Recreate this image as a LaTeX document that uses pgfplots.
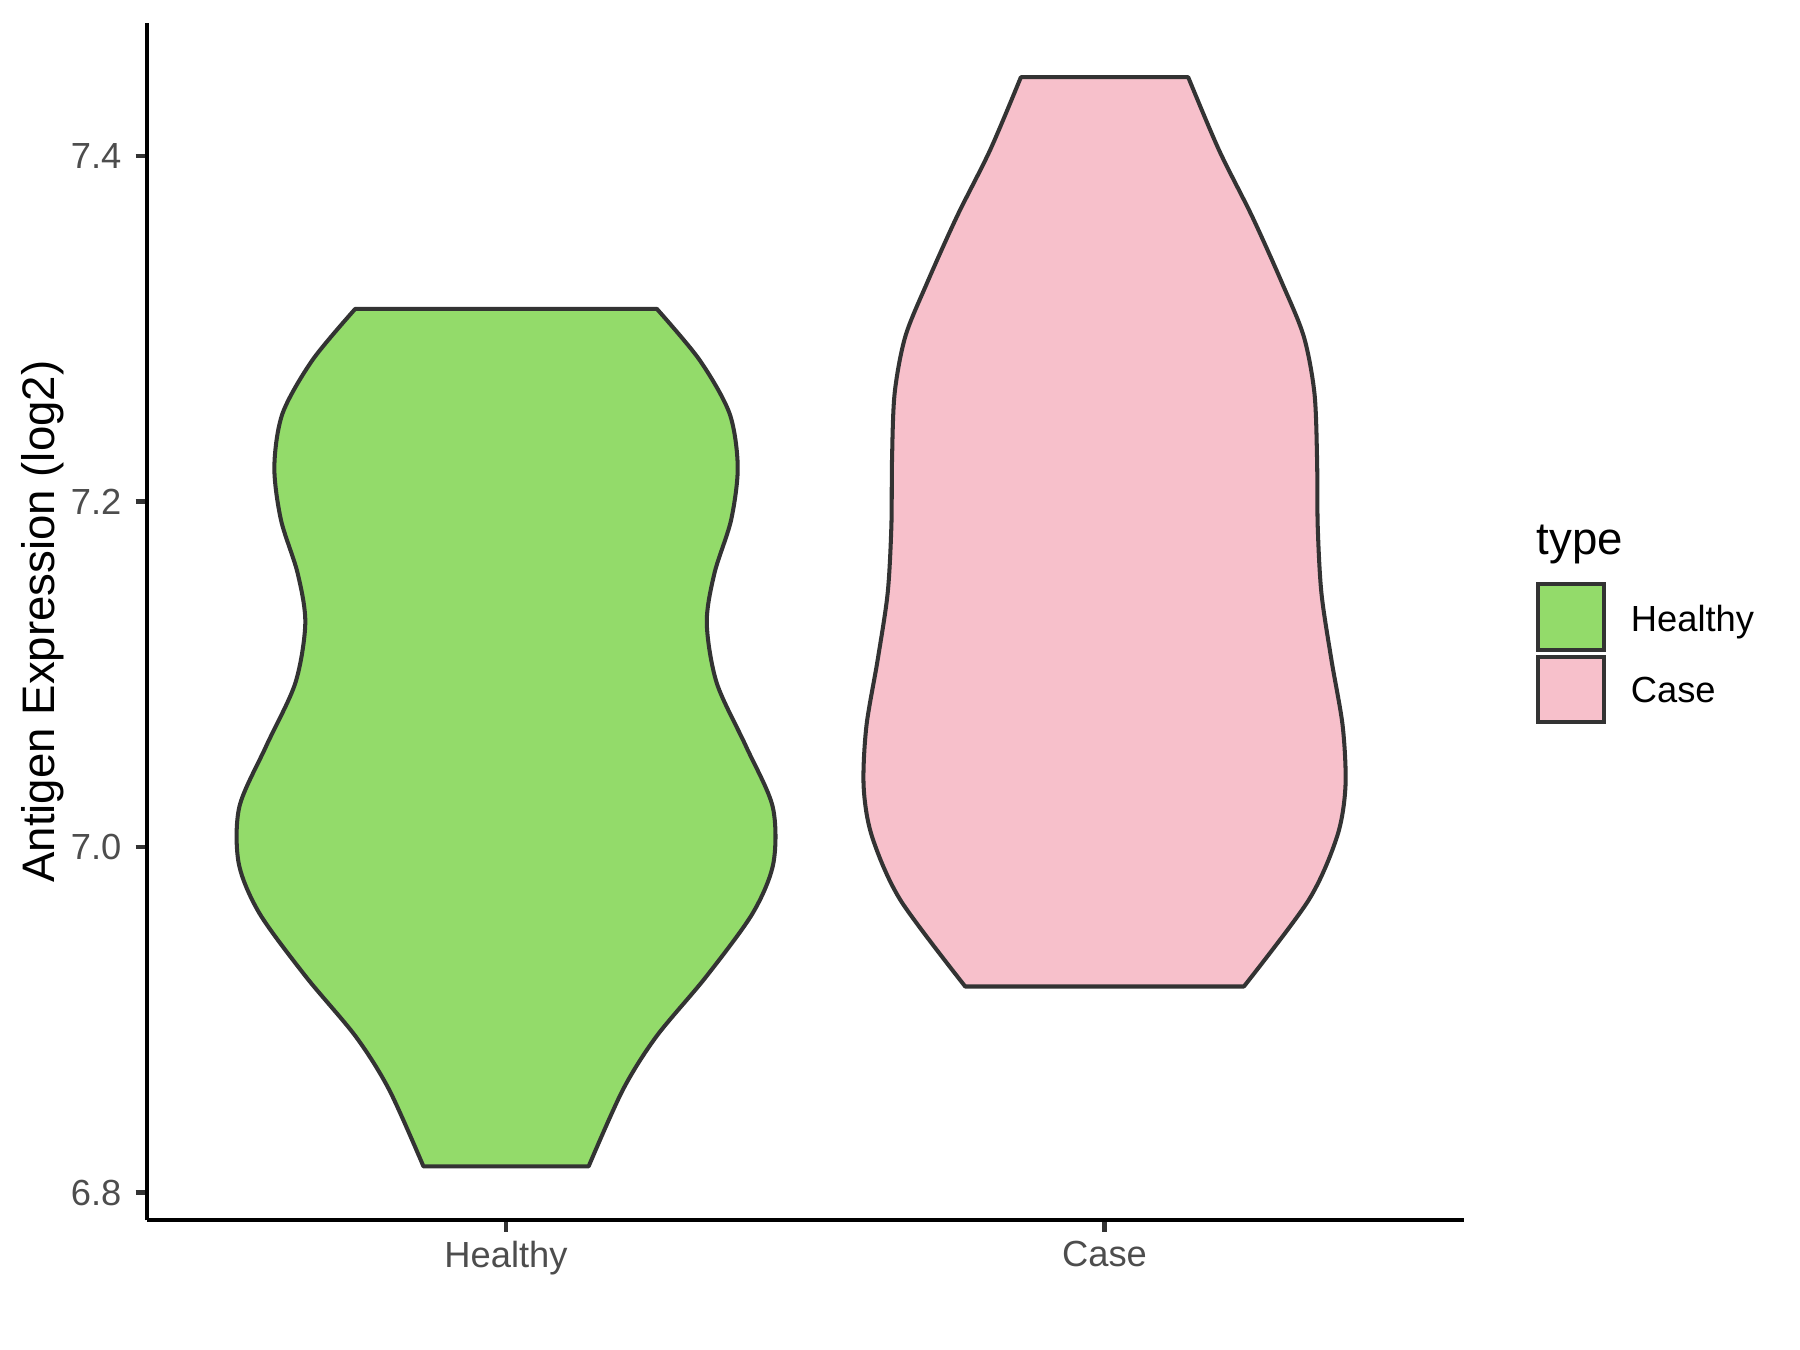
\documentclass[border=0pt]{standalone}
\usepackage{fontspec}
\setmainfont{Liberation Sans}
\usepackage{pgfplots}
\pgfplotsset{compat=1.18}
\usepackage{pgfplotstable}
\usepgfplotslibrary{fillbetween}

\definecolor{healthyfill}{RGB}{147,219,106}
\definecolor{casefill}{RGB}{247,192,203}
\definecolor{gray20}{RGB}{51,51,51}
\definecolor{gray30}{RGB}{77,77,77}

% violin outlines: y value and half width (x units), top to bottom
\pgfplotstableread{
yv hw
7.3115 0.2520
7.2820 0.3232
7.2511 0.3733
7.2202 0.3871
7.1894 0.3761
7.1585 0.3482
7.1296 0.3354
7.0949 0.3521
7.0582 0.4011
7.0234 0.4455
6.9907 0.4467
6.9617 0.4121
6.9250 0.3344
6.8903 0.2510
6.8595 0.1952
6.8152 0.1380
}\healthytab

\pgfplotstableread{
yv hw
7.4456 0.1398
7.4035 0.1911
7.3650 0.2466
7.3264 0.2967
7.2955 0.3329
7.2627 0.3507
7.2241 0.3551
7.1855 0.3562
7.1469 0.3624
7.1083 0.3791
7.0697 0.3980
7.0350 0.4025
7.0061 0.3885
6.9694 0.3412
6.9193 0.2328
}\casetab

\begin{document}
\begin{tikzpicture}
\begin{axis}[
  at={(0,0)}, anchor=south west,
  scale only axis,
  width=11.47cm, height=10.43cm,
  xmin=0.4, xmax=2.6,
  ymin=6.784, ymax=7.477,
  axis lines*=left,
  axis line style={-, black, line width=1.1pt},
  tick align=outside,
  major tick length=2.8pt,
  tick style={gray20, line width=1.1pt},
  xtick={1,2},
  xticklabels={Healthy,Case},
  ytick={6.8,7.0,7.2,7.4},
  yticklabel style={/pgf/number format/.cd, fixed, fixed zerofill, precision=1},
  /pgf/number format/assume math mode=true,
  ticklabel style={font=\fontsize{9}{10}\selectfont, text=gray30},
  xticklabel style={yshift=1.1pt},
  ylabel={Antigen Expression (log2)},
  ylabel style={at={(axis description cs:-0.0793,0.5)}, anchor=center,
                font=\fontsize{11.3}{13}\selectfont},
]
\addplot[draw=none, smooth, name path=HR] table[x expr={1+\thisrow{hw}}, y=yv] {\healthytab};
\addplot[draw=none, smooth, name path=HL] table[x expr={1-\thisrow{hw}}, y=yv] {\healthytab};
\addplot[fill=healthyfill, draw=gray20, line width=1pt, line join=round]
  fill between[of=HR and HL, reverse=true];

\addplot[draw=none, smooth, name path=CR] table[x expr={2+\thisrow{hw}}, y=yv] {\casetab};
\addplot[draw=none, smooth, name path=CL] table[x expr={2-\thisrow{hw}}, y=yv] {\casetab};
\addplot[fill=casefill, draw=gray20, line width=1pt, line join=round]
  fill between[of=CR and CL, reverse=true];
\end{axis}

% legend
\node[anchor=west, inner sep=0pt, font=\fontsize{11.3}{13}\selectfont] at (12.10,5.89) {type};
\draw[gray20, line width=1pt, fill=healthyfill] (12.12,4.97) rectangle (12.69,5.54);
\draw[gray20, line width=1pt, fill=casefill] (12.12,4.34) rectangle (12.69,4.91);
\node[anchor=west, inner sep=0pt, font=\fontsize{9}{10}\selectfont] at (12.92,5.21) {Healthy};
\node[anchor=west, inner sep=0pt, font=\fontsize{9}{10}\selectfont] at (12.92,4.62) {Case};
\path (-1.28,-1.13) rectangle (14.40,10.63);
\end{tikzpicture}
\end{document}
